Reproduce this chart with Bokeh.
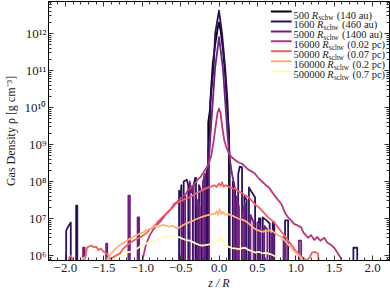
from bokeh.plotting import figure
from bokeh.models import LinearAxis, LogAxis, Range1d, FixedTicker, CustomJSTickFormatter, Label
from bokeh.embed import file_html
from bokeh.resources import INLINE

# ---------------- data (log10 of density vs z/R) ----------------
series_num = ["500", "1600", "5000", "16000", "50000", "160000", "500000"]
series_size = ["(140 au)", "(460 au)", "(1400 au)", "(0.02 pc)", "(0.07 pc)", "(0.2 pc)", "(0.7 pc)"]
series_color = ["#000003", "#2C115F", "#721F81", "#B73779", "#F1605D", "#FEB078", "#FCFDBF"]

z_500 = [-0.30, -0.30, -0.28, -0.28, -0.14, -0.14, -0.12, -0.10, -0.08, -0.05, -0.02, 0.0, 0.02, 0.05, 0.08, 0.10, 0.12, 0.13, 0.13]
l_500 = [5.5, 7.3, 7.3, 5.5, 5.5, 9.6, 9.9, 10.6, 11.2, 11.7, 12.1, 12.3, 12.1, 11.6, 10.9, 10.2, 9.6, 9.3, 5.5]

z_1600 = [-2.10, -1.99, -1.99, -1.96, -1.93, -1.93, -1.86, -1.86, -1.845, -1.845,
          -0.52, -0.52, -0.50, -0.49, -0.49, -0.46, -0.46, -0.42, -0.40, -0.40,
          -0.34, -0.34, -0.31, -0.30, -0.30, -0.26, -0.26, -0.23, -0.23, -0.19, -0.19, -0.17, -0.16, -0.16,
          -0.14, -0.14, -0.12, -0.11, -0.07, -0.05, 0.0, 0.04, 0.08, 0.11, 0.13, 0.14, 0.14,
          0.18, 0.18, 0.21, 0.21, 0.25, 0.25, 0.27, 0.30, 0.30, 0.33, 0.33, 0.36, 0.36,
          0.39, 0.39, 0.43, 0.47, 0.47, 0.52, 0.52, 0.54, 0.54, 0.57, 0.57, 0.62, 0.66, 0.66,
          0.70, 0.70, 0.72, 0.72, 0.86, 0.86, 0.90, 0.90, 1.75, 1.75, 1.80, 1.80, 2.10]
l_1600 = [5.5, 5.5, 6.67, 6.80, 6.89, 5.5, 5.5, 7.35, 7.35, 5.5,
          5.5, 7.75, 7.60, 7.90, 5.5, 5.5, 8.0, 8.05, 7.9, 5.5,
          5.5, 7.8, 8.1, 8.1, 5.5, 5.5, 7.9, 7.7, 5.5, 5.5, 8.2, 8.0, 8.3, 5.5,
          5.5, 8.84, 9.3, 10.2, 11.08, 12.0, 12.62, 12.0, 11.08, 10.2, 9.1, 8.6, 5.5,
          5.5, 8.0, 7.8, 5.5, 5.5, 8.2, 8.4, 8.38, 5.5, 5.5, 7.6, 7.5, 5.5,
          5.5, 7.84, 7.7, 7.57, 5.5, 5.5, 7.0, 7.0, 5.5, 5.5, 7.03, 6.95, 6.86, 5.5,
          5.5, 6.9, 6.9, 5.5, 5.5, 6.95, 6.95, 5.5, 5.5, 6.21, 6.21, 5.5, 5.5]

z_5000 = [-2.10, -1.77, -1.77, -1.75, -1.75, -1.47, -1.47, -1.455, -1.455,
          -1.18, -1.18, -1.16, -1.16, -1.06, -1.06, -1.04, -1.04,
          -0.48, -0.48, -0.44, -0.44, -0.38, -0.38, -0.36, -0.33, -0.33,
          -0.28, -0.28, -0.25, -0.25, -0.21, -0.21, -0.18, -0.18,
          -0.13, -0.13, -0.11, -0.08, -0.05, 0.0, 0.05, 0.08, 0.11, 0.14, 0.17, 0.20, 0.20,
          0.23, 0.23, 0.26, 0.26, 0.31, 0.31, 0.34, 0.34, 0.41, 0.41, 0.45, 0.45,
          0.50, 0.50, 0.53, 0.53, 0.59, 0.59, 0.63, 0.63, 0.68, 0.68, 0.71, 0.71,
          0.84, 0.84, 0.87, 0.87, 1.04, 1.04, 1.07, 1.07, 2.10]
l_5000 = [5.5, 5.5, 6.21, 6.21, 5.5, 5.5, 6.32, 6.32, 5.5,
          5.5, 7.62, 7.62, 5.5, 5.5, 7.03, 7.03, 5.5,
          5.5, 7.4, 7.6, 5.5, 5.5, 8.0, 7.7, 7.9, 5.5,
          5.5, 7.5, 7.3, 5.5, 5.5, 8.0, 8.2, 5.5,
          5.5, 8.6, 9.3, 10.2, 11.08, 11.9, 11.08, 10.2, 9.3, 8.6, 8.2, 7.9, 5.5,
          5.5, 7.6, 7.3, 5.5, 5.5, 7.2, 7.4, 5.5, 5.5, 7.1, 6.9, 5.5,
          5.5, 6.9, 6.8, 5.5, 5.5, 6.8, 6.7, 5.5, 5.5, 6.6, 6.5, 5.5,
          5.5, 6.5, 6.4, 5.5, 5.5, 6.4, 6.4, 5.5, 5.5]

z_16000 = [-1.02, -0.99, -0.95, -0.90, -0.85, -0.80, -0.75, -0.70, -0.66, -0.62, -0.58, -0.54, -0.50, -0.46,
           -0.43, -0.40, -0.36, -0.32, -0.28, -0.24, -0.21, -0.17, -0.13, -0.10, -0.07, -0.04, -0.02, 0.0,
           0.02, 0.04, 0.07, 0.10, 0.13, 0.17, 0.21, 0.25, 0.30, 0.34, 0.38, 0.42, 0.47, 0.51, 0.55, 0.60,
           0.65, 0.69, 0.73, 0.77, 0.81, 0.84, 0.87, 0.90, 0.94, 0.98, 1.02, 1.07, 1.10, 1.13, 1.16, 1.20,
           1.24, 1.28, 1.32, 1.37, 1.41, 1.45, 1.50, 1.54, 1.59, 1.62]
l_16000 = [5.5, 5.94, 6.30, 6.55, 6.72, 6.85, 6.95, 7.10, 7.18, 7.28, 7.40, 7.45, 7.55, 7.62,
           7.67, 7.78, 7.85, 7.93, 8.05, 8.12, 8.22, 8.35, 8.51, 8.70, 9.10, 9.55, 9.85, 9.97,
           9.85, 9.50, 9.10, 8.90, 8.75, 8.65, 8.58, 8.52, 8.48, 8.40, 8.32, 8.28, 8.21, 8.10, 8.02, 7.92,
           7.84, 7.72, 7.60, 7.50, 7.40, 7.25, 7.12, 7.03, 6.95, 6.85, 6.82, 6.76, 6.62, 6.55, 6.48, 6.55,
           6.42, 6.50, 6.40, 6.48, 6.35, 6.30, 6.21, 6.08, 5.92, 5.5]

z_50000 = [-1.97, -1.95, -1.93, -1.91, -1.89, -1.76, -1.74, -1.72, -1.69, -1.66, -1.63, -1.60, -1.57, -1.54,
           -1.50, -1.46, -1.43, -1.41, -1.38, -1.34, -1.29, -1.25, -1.20, -1.15, -1.10, -1.06, -1.03, -0.98,
           -0.94, -0.90, -0.86, -0.82, -0.78, -0.73, -0.69, -0.65, -0.60, -0.56, -0.52, -0.47, -0.42, -0.38,
           -0.34, -0.30, -0.26, -0.22, -0.18, -0.14, -0.10, -0.06, -0.03, 0.0, 0.02, 0.04, 0.06, 0.09, 0.13,
           0.17, 0.21, 0.25, 0.30, 0.34, 0.39, 0.43, 0.47, 0.52, 0.56, 0.60, 0.64, 0.69, 0.73, 0.77, 0.81,
           0.86, 0.90, 0.94, 0.98, 1.03, 1.07, 1.11, 1.14, 1.18, 1.21, 1.25, 1.29, 1.31]
l_50000 = [5.5, 5.95, 6.0, 5.9, 5.5, 5.5, 5.95, 6.21, 6.25, 6.27, 6.22, 6.24, 6.15, 6.19,
           6.10, 6.05, 5.95, 5.90, 5.95, 6.00, 6.05, 6.18, 6.27, 6.35, 6.42, 6.45, 6.49, 6.55,
           6.62, 6.70, 6.76, 6.85, 6.95, 7.05, 7.13, 7.22, 7.30, 7.40, 7.45, 7.50, 7.55, 7.57,
           7.62, 7.68, 7.72, 7.76, 7.80, 7.84, 7.86, 7.90, 7.85, 7.95, 7.88, 7.98, 7.86, 7.90, 7.85,
           7.82, 7.81, 7.74, 7.68, 7.63, 7.57, 7.47, 7.38, 7.30, 7.21, 7.12, 7.03, 6.95, 6.86, 6.76, 6.65,
           6.52, 6.40, 6.30, 6.18, 6.05, 5.97, 5.92, 5.85, 5.95, 6.08, 6.10, 6.05, 5.5]

z_160000 = [-1.80, -1.78, -1.76, -1.74, -1.72, -1.50, -1.46, -1.42, -1.37, -1.33, -1.28, -1.24, -1.20, -1.16,
            -1.12, -1.07, -1.03, -0.99, -0.95, -0.90, -0.86, -0.82, -0.78, -0.73, -0.69, -0.65, -0.60, -0.55,
            -0.51, -0.47, -0.43, -0.38, -0.34, -0.30, -0.25, -0.21, -0.17, -0.13, -0.09, -0.05, -0.03, -0.01,
            0.01, 0.03, 0.05, 0.08, 0.12, 0.17, 0.21, 0.25, 0.30, 0.34, 0.39, 0.43, 0.47, 0.52, 0.56, 0.60,
            0.65, 0.69, 0.73, 0.77, 0.82, 0.86, 0.90, 0.94, 0.98, 1.03, 1.07, 1.10]
l_160000 = [5.5, 5.9, 5.95, 5.88, 5.5, 5.5, 5.88, 6.02, 6.13, 6.22, 6.30, 6.35, 6.40, 6.45,
            6.50, 6.55, 6.59, 6.62, 6.68, 6.72, 6.76, 6.80, 6.78, 6.83, 6.81, 6.78, 6.80, 6.74,
            6.76, 6.82, 6.86, 6.90, 6.94, 6.98, 7.02, 7.05, 7.08, 7.10, 7.12, 7.13, 7.20, 7.10,
            7.25, 7.12, 7.18, 7.10, 7.12, 7.08, 7.04, 7.00, 6.97, 6.94, 6.86, 6.78, 6.72, 6.67, 6.64, 6.66,
            6.68, 6.67, 6.60, 6.55, 6.49, 6.40, 6.30, 6.21, 6.12, 6.02, 5.94, 5.5]

z_500000 = [-1.32, -1.29, -1.25, -1.21, -1.16, -1.12, -1.07, -1.03, -0.99, -0.95, -0.90, -0.86, -0.82, -0.77,
            -0.73, -0.69, -0.64, -0.60, -0.55, -0.51, -0.47, -0.43, -0.38, -0.34, -0.30, -0.26, -0.22, -0.18,
            -0.13, -0.09, -0.05, -0.03, -0.01, 0.0, 0.02, 0.04, 0.06, 0.08, 0.12, 0.17, 0.21, 0.25, 0.30, 0.34,
            0.38, 0.43, 0.47, 0.52, 0.56, 0.60, 0.65, 0.69, 0.73, 0.78, 0.81]
l_500000 = [5.5, 5.92, 6.02, 6.08, 6.10, 6.13, 6.18, 6.24, 6.28, 6.32, 6.37, 6.40, 6.42, 6.46,
            6.50, 6.52, 6.54, 6.52, 6.50, 6.49, 6.45, 6.42, 6.40, 6.36, 6.32, 6.29, 6.27, 6.28,
            6.30, 6.32, 6.36, 6.42, 6.38, 6.52, 6.40, 6.46, 6.30, 6.27, 6.24, 6.20, 6.19, 6.17, 6.20, 6.21,
            6.15, 6.12, 6.08, 6.10, 6.06, 6.07, 6.05, 6.02, 5.98, 5.92, 5.5]

series_z = [z_500, z_1600, z_5000, z_16000, z_50000, z_160000, z_500000]
series_l = [l_500, l_1600, l_5000, l_16000, l_50000, l_160000, l_500000]

x_ticks = [-2.0, -1.5, -1.0, -0.5, 0.0, 0.5, 1.0, 1.5, 2.0]
x_tick_labels = ["\u22122.0", "\u22121.5", "\u22121.0", "\u22120.5", "0.0", "0.5", "1.0", "1.5", "2.0"]
y_tick_exp = [6, 7, 8, 9, 10, 11, 12]
y_tick_labels = ["10\u2076", "10\u2077", "10\u2078", "10\u2079", "10\u00b9\u2070", "10\u00b9\u00b9", "10\u00b9\u00b2"]

# ---------------- layout ----------------
W, H = 390, 292
FL, FR, FT, FB = 44, 389, 1, 260
X0, X1 = -2.22, 2.22
LB, LT = 5.865, 12.865
FONT = "Liberation Serif"
TXT = "#222222"

p = figure(width=W, height=H, x_range=Range1d(X0, X1), y_range=Range1d(10 ** LB, 10 ** LT),
           y_axis_type="log", output_backend="svg", toolbar_location=None,
           min_border_left=FL, min_border_right=W - FR, min_border_top=FT, min_border_bottom=H - FB,
           background_fill_color="white", border_fill_color="white")
p.styles = {"position": "absolute", "left": "0px", "top": "0px"}
p.grid.visible = False
p.outline_line_color = "black"
p.outline_line_width = 1

x_minor = [round(-2.2 + 0.1 * i, 2) for i in range(45)]
y_minor = [m * 10 ** e for e in range(5, 13) for m in range(2, 10)]
xt = FixedTicker(ticks=x_ticks, minor_ticks=x_minor)
yt = FixedTicker(ticks=[10 ** e for e in y_tick_exp], minor_ticks=y_minor)

xfmt = CustomJSTickFormatter(args=dict(t=x_ticks, lab=x_tick_labels), code="""
for (let i = 0; i < t.length; i++) { if (Math.abs(t[i] - tick) < 1e-6) return lab[i]; }
return "";""")
yfmt = CustomJSTickFormatter(args=dict(t=y_tick_exp, lab=y_tick_labels), code="""
const e = Math.log10(tick);
for (let i = 0; i < t.length; i++) { if (Math.abs(t[i] - e) < 1e-6) return lab[i]; }
return "";""")
blank = CustomJSTickFormatter(code='return "";')

def style_axis(ax):
    ax.major_tick_in = 5
    ax.major_tick_out = 0
    ax.minor_tick_in = 3
    ax.minor_tick_out = 0
    ax.major_tick_line_color = "#333333"
    ax.minor_tick_line_color = "#333333"
    ax.axis_line_color = "black"
    ax.major_label_text_font = FONT
    ax.major_label_text_font_size = "13px"
    ax.major_label_text_color = TXT
    ax.axis_label_text_font = FONT
    ax.axis_label_text_font_size = "12px"
    ax.axis_label_text_color = TXT

xa = p.xaxis[0]
xa.ticker = xt
xa.formatter = xfmt
style_axis(xa)
xa.major_label_standoff = 3
xa.axis_label = "z / R"
xa.axis_label_text_font_style = "italic"
xa.axis_label_standoff = 1

ya = p.yaxis[0]
ya.ticker = yt
ya.formatter = yfmt
style_axis(ya)
ya.major_label_standoff = 2
ya.axis_label = "Gas Density \u03c1 [g cm\u207b\u00b3]"
ya.axis_label_text_font_style = "normal"
ya.axis_label_standoff = 4

top = LinearAxis(ticker=xt, formatter=blank)
style_axis(top)
top.major_label_text_font_size = "0px"
top.major_label_standoff = 0
p.add_layout(top, "above")
right = LogAxis(ticker=yt, formatter=blank)
style_axis(right)
right.major_label_text_font_size = "0px"
right.major_label_standoff = 0
p.add_layout(right, "right")

# ---------------- lines ----------------
for zs, ls, c in zip(series_z, series_l, series_color):
    p.line(zs, [10 ** v for v in ls], line_color=c, line_width=1.8, line_join="round")

# ---------------- legend (custom, with subscripts) ----------------
def sx_to_x(sx):
    return X0 + (sx - FL) / (FR - FL) * (X1 - X0)

def sy_to_y(sy):
    return 10 ** (LT - (sy - FT) / (FB - FT) * (LT - LB))

TW = {"0": 500, "1": 500, "2": 500, "3": 500, "4": 500, "5": 500, "6": 500, "7": 500, "8": 500, "9": 500,
      " ": 250, "(": 333, ")": 333, ".": 250, "a": 444, "u": 500, "p": 500, "c": 444, "s": 389, "h": 500, "w": 722}

def tw(s, size):
    return sum(TW.get(ch, 500) for ch in s) / 1000.0 * size

LF = 10.5
SUB = 7.3
row0, dy = 11.0, 9.95
seg_x0, seg_x1, tx0 = 269, 290, 292
for i, (num, sz, c) in enumerate(zip(series_num, series_size, series_color)):
    yc = row0 + dy * i
    p.segment(x0=[sx_to_x(seg_x0)], y0=[sy_to_y(yc)], x1=[sx_to_x(seg_x1)], y1=[sy_to_y(yc)],
              line_color=c, line_width=2)
    base = yc + 3.5
    x = tx0
    parts = [(num, "normal", LF, 0.0), ("R", "italic", LF, 0.0), ("schw", "normal", SUB, 2.3), (sz, "normal", LF, 0.0)]
    for j, (t, st, fs, off) in enumerate(parts):
        p.add_layout(Label(x=sx_to_x(x), y=sy_to_y(base + off), text=t, text_font=FONT, text_font_style=st,
                           text_font_size=f"{fs}px", text_color=TXT, text_baseline="alphabetic", text_align="left"))
        if t == "R":
            x += 611 / 1000.0 * fs + 0.3
        else:
            x += tw(t, fs)
        if j == 0:
            x += tw(" ", LF)
        if j == 2:
            x += tw(" ", LF) + 1.0

open("out.html", "w").write(file_html(p, INLINE))
